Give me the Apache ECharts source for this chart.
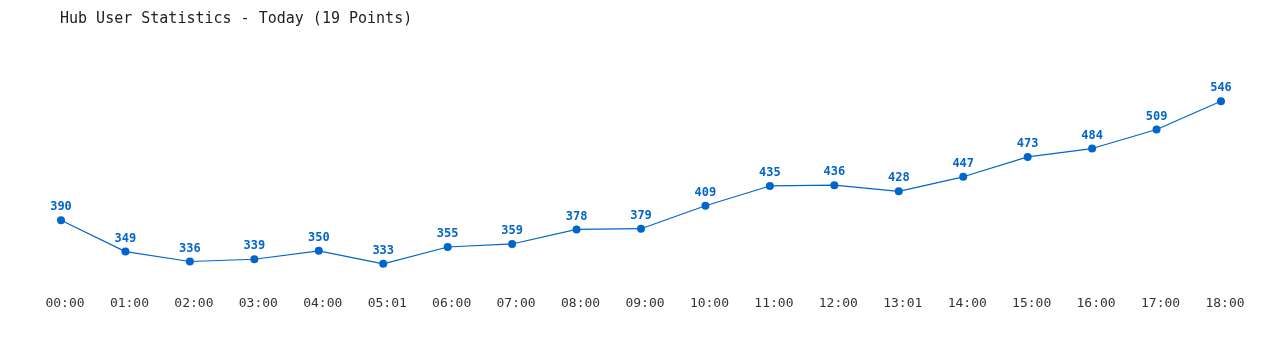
<!DOCTYPE html>
<html>
<head>
<meta charset="utf-8">
<script src="https://cdn.jsdelivr.net/npm/echarts@6/dist/echarts.min.js"></script>
<style>html,body{margin:0;padding:0;background:#fff}#c{width:1280px;height:350px}</style>
</head>
<body>
<div id="c"></div>
<script>
const titleText = 'Hub User Statistics - Today (19 Points)';
const categories = ['00:00','01:00','02:00','03:00','04:00','05:01','06:00','07:00','08:00','09:00','10:00','11:00','12:00','13:01','14:00','15:00','16:00','17:00','18:00'];
const users = [390,349,336,339,350,333,355,359,378,379,409,435,436,428,447,473,484,509,546];

const chart = echarts.init(document.getElementById('c'));
chart.setOption({
  animation: false,
  backgroundColor: '#ffffff',
  title: {
    text: titleText,
    left: 60, top: 12, padding: 0,
    textStyle: { fontFamily: 'DejaVu Sans Mono', fontSize: 15, fontWeight: 'normal', color: '#222222' }
  },
  grid: { left: 61, right: 59, top: 60, bottom: 61 },
  xAxis: {
    type: 'category',
    data: categories,
    boundaryGap: false,
    axisLine: { show: false },
    axisTick: { show: false },
    splitLine: { show: false },
    axisLabel: { fontFamily: 'DejaVu Sans Mono', fontSize: 13, color: '#333333', margin: 8, padding: [0, 0, 0, 8], interval: 0 }
  },
  yAxis: {
    type: 'value', min: 300, max: 600,
    show: false
  },
  series: [{
    type: 'line',
    data: users,
    symbol: 'circle',
    symbolSize: 8,
    itemStyle: { color: '#0066cc' },
    lineStyle: { color: '#0066cc', width: 1.2 },
    label: {
      show: true, position: 'top', distance: 3,
      fontFamily: 'DejaVu Sans Mono', fontSize: 12, fontWeight: 'bold', color: '#0066cc'
    }
  }]
});
</script>
</body>
</html>
